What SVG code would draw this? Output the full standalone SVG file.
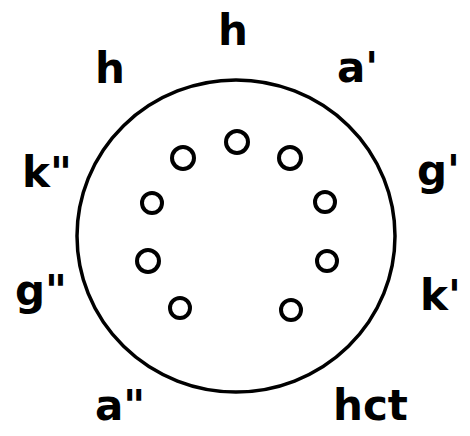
<svg xmlns="http://www.w3.org/2000/svg" width="470" height="436" viewBox="0 0 470 436">
<style>
.big{fill:none;stroke:#000;stroke-width:3.5}
.dot{fill:none;stroke:#000;stroke-width:4}
.lbl{font-family:"DejaVu Sans",sans-serif;font-weight:bold;font-size:42px;fill:#000}
</style>
<rect width="470" height="436" fill="#fff"/>
<g id="outer"><ellipse class="big" cx="236" cy="236" rx="159" ry="156"/></g>
<g id="holes">
<circle class="dot" cx="237" cy="142" r="11"/>
<circle class="dot" cx="183" cy="158" r="11"/>
<circle class="dot" cx="290" cy="158" r="11"/>
<circle class="dot" cx="152" cy="203" r="10"/>
<circle class="dot" cx="325" cy="202" r="10"/>
<circle class="dot" cx="148" cy="261" r="11"/>
<circle class="dot" cx="327" cy="261" r="10"/>
<circle class="dot" cx="180" cy="308" r="10"/>
<circle class="dot" cx="291" cy="310" r="10"/>
</g>
<g id="labels">
<text class="lbl" x="218" y="45">h</text>
<text class="lbl" x="95" y="83">h</text>
<text class="lbl" x="337" y="82">a'</text>
<text class="lbl" x="22" y="187">k"</text>
<text class="lbl" x="417" y="185">g'</text>
<text class="lbl" x="15" y="305">g"</text>
<text class="lbl" x="420" y="310">k'</text>
<text class="lbl" x="95" y="420">a"</text>
<text class="lbl" x="333" y="420">hct</text>
</g>
</svg>
